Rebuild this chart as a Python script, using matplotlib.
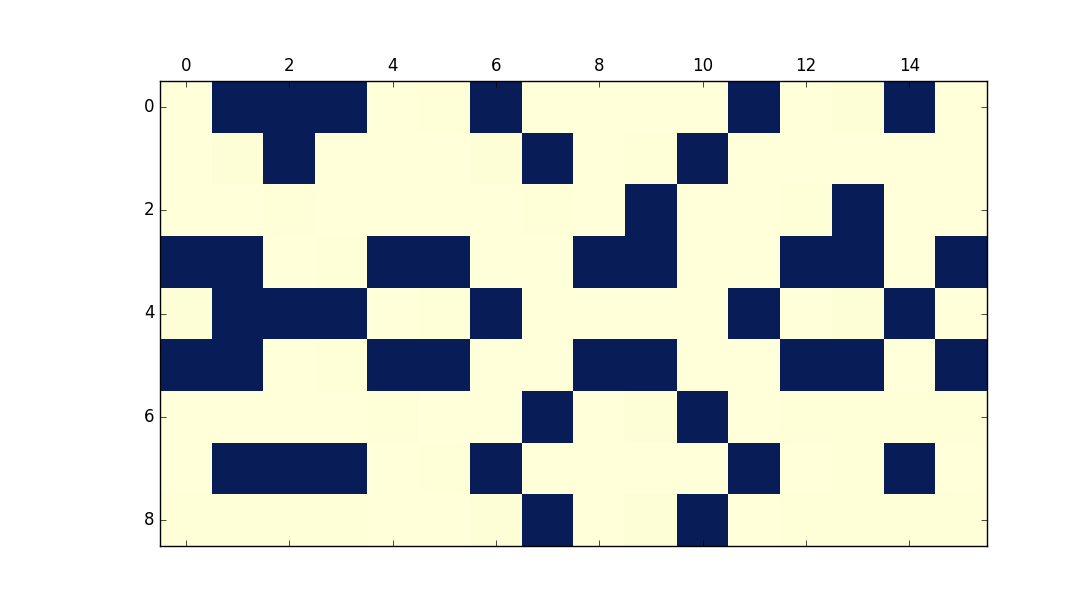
import numpy as np
import matplotlib
matplotlib.use('Agg')
import matplotlib.pyplot as plt

plt.style.use('classic')

# 9 x 16 matrix: dark cells ~1, light cells near 0 with slight variation
M = np.array([
    [0.000, 1.000, 1.000, 1.000, 0.000, 0.007, 1.000, 0.000, 0.003, 0.003, 0.000, 1.000, 0.003, 0.010, 1.000, 0.000],
    [0.000, 0.010, 1.000, 0.000, 0.000, 0.000, 0.010, 1.000, 0.000, 0.007, 1.000, 0.000, 0.000, 0.000, 0.003, 0.000],
    [0.003, 0.003, 0.007, 0.003, 0.003, 0.003, 0.003, 0.007, 0.003, 1.000, 0.003, 0.003, 0.007, 1.000, 0.003, 0.003],
    [1.000, 1.000, 0.000, 0.007, 1.000, 1.000, 0.000, 0.003, 1.000, 1.000, 0.000, 0.003, 1.000, 1.000, 0.000, 1.000],
    [0.010, 1.000, 1.000, 1.000, 0.000, 0.007, 1.000, 0.000, 0.000, 0.000, 0.000, 1.000, 0.003, 0.013, 1.000, 0.003],
    [1.000, 1.000, 0.000, 0.007, 1.000, 1.000, 0.000, 0.003, 1.000, 1.000, 0.000, 0.003, 1.000, 1.000, 0.000, 1.000],
    [0.003, 0.003, 0.003, 0.003, 0.007, 0.003, 0.003, 1.000, 0.003, 0.010, 1.000, 0.003, 0.007, 0.007, 0.007, 0.007],
    [0.003, 1.000, 1.000, 1.000, 0.003, 0.007, 1.000, 0.000, 0.003, 0.003, 0.000, 1.000, 0.003, 0.007, 1.000, 0.003],
    [0.007, 0.007, 0.007, 0.007, 0.003, 0.003, 0.010, 1.000, 0.003, 0.010, 1.000, 0.003, 0.007, 0.007, 0.007, 0.007],
])

fig = plt.figure(figsize=(10.66, 6.0), dpi=100, facecolor='white')
ax = fig.add_axes([160/1066, 54/600, 827/1066, 465/600])
ax.matshow(M, cmap='YlGnBu', vmin=0, vmax=1, aspect='auto')
ax.set_xticks(np.arange(0, 16, 2))
ax.set_yticks(np.arange(0, 9, 2))
ax.tick_params(labelsize=12)

fig.savefig('out.png', dpi=100, facecolor='white')
